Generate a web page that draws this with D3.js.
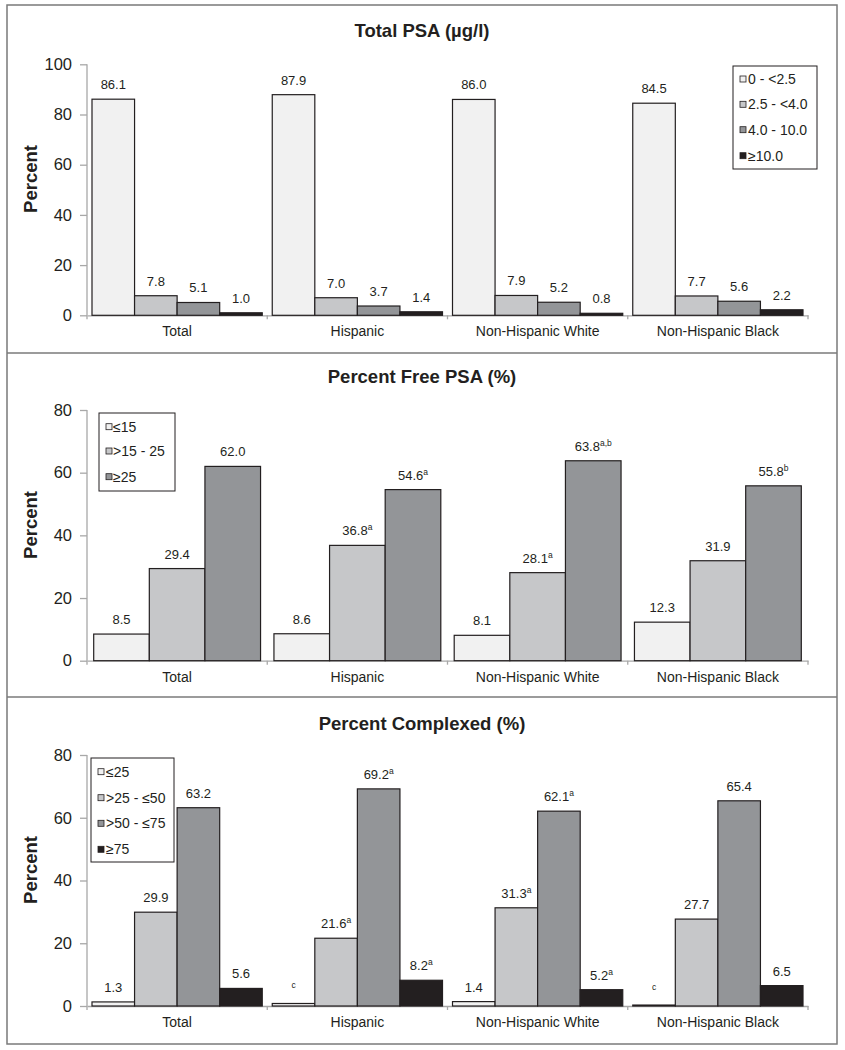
<!DOCTYPE html>
<html>
<head>
<meta charset="utf-8">
<script src="https://cdn.jsdelivr.net/npm/d3@7"></script>
<style>
  html, body { margin: 0; padding: 0; background: #fff; }
  svg { display: block; font-family: Arial, "Liberation Sans", Helvetica, sans-serif; }
</style>
</head>
<body>
<svg id="chart" width="845" height="1050"></svg>
<script>
// ---------- DATA ----------
const groups = ["Total", "Hispanic", "Non-Hispanic White", "Non-Hispanic Black"];

const psaTitle = "Total PSA (\u00b5g/l)";
const psaSeries = ["0 - <2.5", "2.5 - <4.0", "4.0 - 10.0", "\u226510.0"];
const psaValues = [
  [86.1, 7.8, 5.1, 1.0],
  [87.9, 7.0, 3.7, 1.4],
  [86.0, 7.9, 5.2, 0.8],
  [84.5, 7.7, 5.6, 2.2]
];
const psaNotes = [["", "", "", ""], ["", "", "", ""], ["", "", "", ""], ["", "", "", ""]];
const psaSuppressed = [[false, false, false, false], [false, false, false, false], [false, false, false, false], [false, false, false, false]];
const psaTicks = [0, 20, 40, 60, 80, 100];

const freeTitle = "Percent Free PSA (%)";
const freeSeries = ["\u226415", ">15 - 25", "\u226525"];
const freeValues = [
  [8.5, 29.4, 62.0],
  [8.6, 36.8, 54.6],
  [8.1, 28.1, 63.8],
  [12.3, 31.9, 55.8]
];
const freeNotes = [["", "", ""], ["", "a", "a"], ["", "a", "a,b"], ["", "", "b"]];
const freeSuppressed = [[false, false, false], [false, false, false], [false, false, false], [false, false, false]];
const freeTicks = [0, 20, 40, 60, 80];

const cpxTitle = "Percent Complexed (%)";
const cpxSeries = ["\u226425", ">25 - \u226450", ">50 - \u226475", "\u226575"];
const cpxValues = [
  [1.3, 29.9, 63.2, 5.6],
  [0.8, 21.6, 69.2, 8.2],
  [1.4, 31.3, 62.1, 5.2],
  [0.3, 27.7, 65.4, 6.5]
];
const cpxNotes = [["", "", "", ""], ["c", "a", "a", "a"], ["", "a", "a", "a"], ["c", "", "", ""]];
const cpxSuppressed = [[false, false, false, false], [true, false, false, false], [false, false, false, false], [true, false, false, false]];
const cpxTicks = [0, 20, 40, 60, 80];

const fills = ["#f1f1f1", "#c6c7c9", "#939598", "#231f20"];

// ---------- LAYOUT ----------
const svg = d3.select("#chart");
const ink = "#231f20";
const axisGray = "#a8a8a8";
const xLeft = 87, xRight = 808;

// outer frame and dividers
svg.append("rect").attr("x", 7).attr("y", 5).attr("width", 830).attr("height", 1039)
  .attr("fill", "none").attr("stroke", "#7a7a7a").attr("stroke-width", 1.5);
[353, 697].forEach(yy => svg.append("line").attr("x1", 7).attr("x2", 837).attr("y1", yy).attr("y2", yy)
  .attr("stroke", "#7a7a7a").attr("stroke-width", 1.5));

const panels = [
  { title: psaTitle, titleY: 37, series: psaSeries, values: psaValues, notes: psaNotes, supp: psaSuppressed,
    ticks: psaTicks, max: 100, yTop: 64.3, y0: 315.3, pad: 5, labelY: 179,
    legend: { x: 733, y: 66, w: 84, h: 103, items: [79, 104.3, 129.7, 155.7], sx: 740, tx: 748 } },
  { title: freeTitle, titleY: 383, series: freeSeries, values: freeValues, notes: freeNotes, supp: freeSuppressed,
    ticks: freeTicks, max: 80, yTop: 410, y0: 660.7, pad: 6.7, labelY: 525,
    legend: { x: 99, y: 413, w: 76, h: 78, items: [426.7, 451, 476.7], sx: 106, tx: 113 } },
  { title: cpxTitle, titleY: 730, series: cpxSeries, values: cpxValues, notes: cpxNotes, supp: cpxSuppressed,
    ticks: cpxTicks, max: 80, yTop: 755, y0: 1006, pad: 5, labelY: 870,
    legend: { x: 91, y: 758, w: 83, h: 104, items: [771.7, 797.7, 823.3, 849.3], sx: 98, tx: 106 } }
];

panels.forEach(p => {
  const g = svg.append("g");
  const x = d3.scaleBand().domain(groups).range([xLeft, xRight]).paddingInner(0).paddingOuter(0);
  const bw = x.bandwidth();
  const xs = d3.scaleBand().domain(d3.range(p.series.length)).range([p.pad, bw - p.pad]).padding(0);
  const y = d3.scaleLinear().domain([0, p.max]).range([p.y0, p.yTop]);

  // title
  g.append("text").attr("x", 422).attr("y", p.titleY).attr("text-anchor", "middle")
    .attr("font-size", 18.5).attr("font-weight", "bold").attr("fill", ink).text(p.title);

  // y axis label
  g.append("text").attr("transform", `translate(31,${p.labelY}) rotate(-90)`).attr("dy", "0.35em")
    .attr("text-anchor", "middle").attr("font-size", 18.5).attr("font-weight", "bold").attr("fill", ink).text("Percent");

  // y axis
  const ya = g.append("g").attr("transform", `translate(${xLeft},0)`)
    .call(d3.axisLeft(y).tickValues(p.ticks).tickSize(7).tickPadding(8).tickFormat(d3.format("d")));
  ya.select(".domain").attr("stroke", axisGray).attr("stroke-width", 1.3).attr("d", `M-0,${p.yTop}V${p.y0 + 4}`);
  ya.selectAll(".tick line").attr("stroke", axisGray).attr("stroke-width", 1.3);
  ya.selectAll(".tick text").attr("font-size", 16.5).attr("fill", ink).attr("font-family", "Arial, 'Liberation Sans', sans-serif");

  // x axis (line with group separators)
  const xa = g.append("g").attr("transform", `translate(0,${p.y0})`)
    .call(d3.axisBottom(x).tickSize(0).tickPadding(0).tickFormat(""));
  xa.select(".domain").attr("stroke", axisGray).attr("stroke-width", 1.3);
  xa.selectAll(".tick").remove();
  const seps = groups.map(gname => x(gname) + bw);
  xa.selectAll("line.sep").data(seps).enter().append("line").attr("class", "sep")
    .attr("x1", d => d).attr("x2", d => d).attr("y1", 0).attr("y2", 4)
    .attr("stroke", axisGray).attr("stroke-width", 1.3);
  // category labels
  g.selectAll("text.cat").data(groups).enter().append("text").attr("class", "cat")
    .attr("x", d => x(d) + bw / 2).attr("y", p.y0 + 21).attr("text-anchor", "middle")
    .attr("font-size", 14).attr("fill", ink).text(d => d);

  // bars
  groups.forEach((gname, gi) => {
    const gg = g.append("g").attr("transform", `translate(${x(gname)},0)`);
    const rows = p.values[gi].map((v, si) => ({ v, si, note: p.notes[gi][si], supp: p.supp[gi][si] }));
    gg.selectAll("rect").data(rows).enter().append("rect")
      .attr("x", d => xs(d.si)).attr("width", xs.bandwidth())
      .attr("y", d => y(d.v)).attr("height", d => p.y0 - y(d.v))
      .attr("fill", d => fills[d.si]).attr("stroke", ink).attr("stroke-width", 1.2);
    const t = gg.selectAll("text.val").data(rows).enter().append("text").attr("class", "val")
      .attr("x", d => xs(d.si) + xs.bandwidth() / 2).attr("y", d => y(d.v) - 10)
      .attr("text-anchor", "middle").attr("font-size", 13).attr("fill", ink);
    t.each(function (d) {
      const el = d3.select(this);
      if (!d.supp) el.append("tspan").text(d.v.toFixed(1));
      if (d.note) el.append("tspan").attr("font-size", 8.5).attr("dy", -5).text(d.note);
    });
  });

  // legend
  const L = p.legend;
  const lg = g.append("g");
  lg.append("rect").attr("x", L.x).attr("y", L.y).attr("width", L.w).attr("height", L.h)
    .attr("fill", "#fff").attr("stroke", ink).attr("stroke-width", 1);
  p.series.forEach((s, i) => {
    lg.append("rect").attr("x", L.sx).attr("y", L.items[i] - 3).attr("width", 6).attr("height", 6)
      .attr("fill", fills[i]).attr("stroke", ink).attr("stroke-width", 0.8);
    lg.append("text").attr("x", L.tx).attr("y", L.items[i]).attr("dy", "0.35em")
      .attr("font-size", 14).attr("fill", ink).text(s);
  });
});
</script>
</body>
</html>
